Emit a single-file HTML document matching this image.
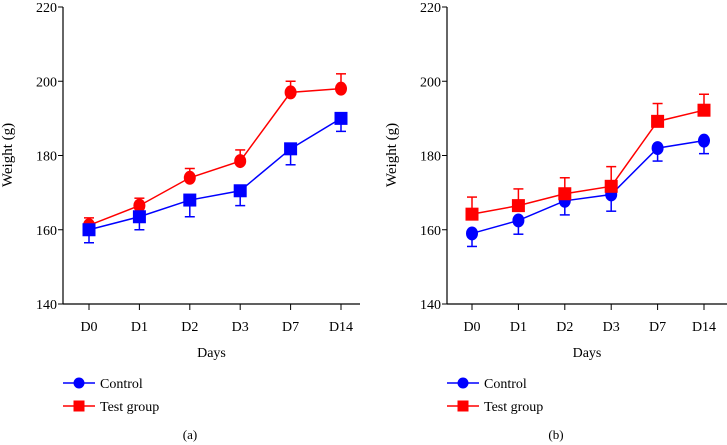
<!DOCTYPE html>
<html><head><meta charset="utf-8"><style>
body{margin:0;background:#fff}
svg{display:block;font-family:"Liberation Serif",serif;font-size:14px;fill:#000}
</style></head><body>
<svg width="727" height="445" viewBox="0 0 727 445" id="chart"></svg>
<script>
const days=["D0","D1","D2","D3","D7","D14"];
const yTicks=[140,160,180,200,220];
const aControl=[160,163.5,168,170.5,181.8,190];
const aControlErr=[3.5,3.5,4.5,4,4.3,3.5];
const aTest=[161.2,166.5,174,178.5,197,198];
const aTestErr=[2,2,2.5,3,3,4];
const bControl=[159,162.5,167.8,169.5,182,184];
const bControlErr=[3.5,3.7,3.8,4.5,3.5,3.5];
const bTest=[164.2,166.5,169.7,171.7,189.2,192.2];
const bTestErr=[4.6,4.5,4.3,5.3,4.8,4.3];
const NS="http://www.w3.org/2000/svg";
const svg=document.getElementById('chart');
function mk(t,a,p){const e=document.createElementNS(NS,t);for(const k in a)e.setAttribute(k,a[k]);(p||svg).appendChild(e);return e;}
function y(v){return 304-(v-140)*3.7125;}
function panel(ax,x0,step,xEnd,series,label,labelX,name){
  const g=mk('g',{});
  
  
  const X=i=>x0+i*step;
  const yl=mk('line',{x1:ax,y1:7,x2:ax,y2:304,stroke:'#000','stroke-width':1.2},g);
  
  const xl=mk('line',{x1:ax,y1:304,x2:xEnd,y2:304,stroke:'#000','stroke-width':1.2},g);
  
  yTicks.forEach(v=>{
    mk('line',{x1:ax-5,y1:y(v),x2:ax,y2:y(v),stroke:'#000'},g);
    const t=mk('text',{x:ax-6,y:y(v)+5,'text-anchor':'end'},g);t.textContent=v;
    
  });
  days.forEach((d,i)=>{
    mk('line',{x1:X(i),y1:304,x2:X(i),y2:310,stroke:'#000'},g);
    const t=mk('text',{x:X(i),y:331,'text-anchor':'middle'},g);t.textContent=d;
    
  });
  const xt=mk('text',{x:(ax+xEnd)/2,y:357,'text-anchor':'middle'},g);xt.textContent='Days';
  
  const yt=mk('text',{x:0,y:0,'text-anchor':'middle','font-size':'15',transform:`translate(${ax-51},155) rotate(-90)`},g);yt.textContent='Weight (g)';
  
  series.forEach(s=>{
    const pts=s.vals.map((v,i)=>X(i)+','+y(v)).join(' ');
    const pl=mk('polyline',{points:pts,fill:'none',stroke:s.color,'stroke-width':1.5},g);
    
    s.vals.forEach((v,i)=>{
      const e=v+s.dir*s.err[i];
      mk('line',{x1:X(i),y1:y(v),x2:X(i),y2:y(e),stroke:s.color,'stroke-width':1.5},g);
      mk('line',{x1:X(i)-5,y1:y(e),x2:X(i)+5,y2:y(e),stroke:s.color,'stroke-width':1.5},g);
      let m;
      if(s.shape==='circle') m=mk('ellipse',{cx:X(i),cy:y(v),rx:6,ry:7,fill:s.color},g);
      else m=mk('rect',{x:X(i)-6.5,y:y(v)-6.5,width:13,height:13,fill:s.color},g);
      
    });
  });
  [['Control','#0000ff','circle',383],['Test group','#ff0000','rect',406]].forEach(L=>{
    const lg=mk('g',{},g);
    
    mk('line',{x1:ax,y1:L[3],x2:ax+32,y2:L[3],stroke:L[1],'stroke-width':1.5},lg);
    if(L[2]==='circle') mk('circle',{cx:ax+16,cy:L[3],r:5.5,fill:L[1]},lg);
    else mk('rect',{x:ax+10.5,y:L[3]-5.5,width:11,height:11,fill:L[1]},lg);
    const t=mk('text',{x:ax+37,y:L[3]+5},lg);t.textContent=L[0];
  });
  const pt=mk('text',{x:labelX,y:439,'text-anchor':'middle','font-size':'13'},g);pt.textContent=label;
  
}
panel(63,89,50.4,360,[
  {name:'test',vals:aTest,err:aTestErr,dir:1,color:'#ff0000',shape:'circle'},
  {name:'control',vals:aControl,err:aControlErr,dir:-1,color:'#0000ff',shape:'rect'}
],'(a)',190,'panel-a');
panel(447,472,46.4,727,[
  {name:'control',vals:bControl,err:bControlErr,dir:-1,color:'#0000ff',shape:'circle'},
  {name:'test',vals:bTest,err:bTestErr,dir:1,color:'#ff0000',shape:'rect'}
],'(b)',556,'panel-b');
</script>
</body></html>
